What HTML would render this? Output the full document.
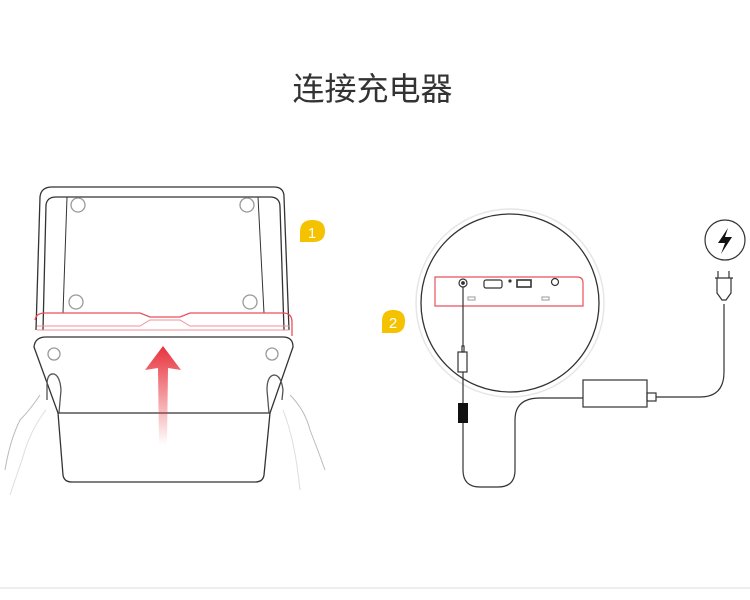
<!DOCTYPE html>
<html><head><meta charset="utf-8"><style>
body{margin:0;background:#fff;width:750px;height:600px;overflow:hidden;position:relative}
.t{position:absolute;top:64px;left:0;width:745px;text-align:center;font:32px "Liberation Sans","Noto Sans CJK SC",sans-serif;color:#333}
</style></head><body>
<div class="t">连接充电器</div>
<svg width="750" height="600" style="position:absolute;left:0;top:0">
<defs><linearGradient id="ag" x1="0" y1="0" x2="0" y2="1"><stop offset="0" stop-color="#e8323c"/><stop offset="1" stop-color="#e8323c" stop-opacity="0"/></linearGradient></defs>
<g fill="none" stroke="#333" stroke-width="1.3">
<path d="M36,330 L40,197 Q41,187 52,187 L274,187 Q284,187 284,197 L289,330"/>
<path d="M43,330 L46,205 Q47,197 56,197 L270,197 Q280,197 280,207 L284,330"/>
<line x1="67" y1="197" x2="63" y2="313" stroke-width="1"/>
<line x1="258" y1="197" x2="264" y2="313" stroke-width="1"/>
<circle cx="78" cy="205" r="7" stroke="#999"/><circle cx="247" cy="205" r="7" stroke="#999"/>
<circle cx="76" cy="302" r="7" stroke="#999"/><circle cx="250" cy="302" r="7" stroke="#999"/>
<path d="M35,320 Q36,313 45,313 L140,313 L150,317 L180,317 L190,313 L283,313 Q292,313 292,322 L292,336" stroke="#e8505a"/>
<path d="M37,326 L140,326 L150,320 L180,320 L190,326 L289,326" stroke="#f09098" stroke-width="1"/>
<path d="M37,330 L289,330" stroke="#f09098" stroke-width="1"/>
<path d="M46,337 L283,337 Q293,337 293,347 L270,413 L264,475 Q263,482 255,482 L72,482 Q64,482 63,475 L58,413 L34,347 Q35,337 46,337 Z"/>
<line x1="58" y1="413" x2="270" y2="413"/>
<circle cx="54" cy="354" r="6" stroke="#999"/><circle cx="272" cy="354" r="6" stroke="#999"/>
<path d="M47,400 L47,385 Q47,373 54,374 Q60,376 61,390 L59,413" stroke="#555"/>
<path d="M269,413 L267,390 Q267,376 274,375 Q281,375 283,390 L282,400" stroke="#555"/>
<path d="M40,395 Q30,410 20,420 Q10,440 5,470" stroke="#bbb" stroke-width="1"/>
<path d="M46,410 Q30,430 22,460 Q15,480 10,495" stroke="#ddd" stroke-width="1"/>
<path d="M290,395 Q305,410 310,430 Q318,450 325,470" stroke="#bbb" stroke-width="1"/>
<path d="M283,410 Q295,440 300,490" stroke="#ddd" stroke-width="1"/>
</g>
<path d="M163,346 L181,370 L168,368 L167,445 L159,445 L158,368 L145,370 Z" fill="url(#ag)"/>
<path d="M300,232 Q300,220 312,220 Q325,220 325,231 Q325,242 313,242 L300,242 Z" fill="#f5c200"/>
<text x="312" y="238" font-family="Liberation Sans,sans-serif" font-size="15" fill="#fff" text-anchor="middle">1</text>
<path d="M382,321 Q382,310 393,310 Q405,310 405,321 Q405,333 394,333 L382,333 Z" fill="#f5c200"/>
<text x="393" y="328" font-family="Liberation Sans,sans-serif" font-size="15" fill="#fff" text-anchor="middle">2</text>
<circle cx="510" cy="303" r="94" fill="none" stroke="#e6e6e6" stroke-width="1.5"/>
<circle cx="510" cy="303" r="89" fill="none" stroke="#333" stroke-width="1.3"/>
<g fill="none" stroke="#333" stroke-width="1.2">
<path d="M435,277 L577,277 Q583,277 583,283 L583,306 L435,306 Z" stroke="#e8505a"/>
<circle cx="463" cy="283" r="4"/><circle cx="463" cy="283" r="1.3" fill="#333"/>
<rect x="484" y="280" width="18" height="8" rx="2"/><rect x="517" y="280" width="14" height="7" stroke-width="1.6"/>
<circle cx="510" cy="281" r="1" fill="#333"/>
<circle cx="555" cy="282" r="3.5"/>
<rect x="468" y="297" width="7" height="3" stroke="#aaa"/><rect x="542" y="297" width="7" height="3" stroke="#aaa"/>
<path d="M463,287 L463,346"/><rect x="462" y="346" width="2" height="6"/>
<rect x="458" y="352" width="9" height="20"/>
<path d="M463,372 L463,403 M463,423 L463,470 Q463,487 480,487 L498,487 Q515,487 515,470 L515,420 Q515,398 540,398 L583,398"/>
<rect x="583" y="380" width="64" height="27"/>
<rect x="647" y="393" width="9" height="8"/>
<path d="M656,397 L700,397 Q724,397 724,372 L724,304"/>
<path d="M715,278 L733,278 M718,271 L718,278 M729,271 L729,278 M717,278 L717,293 L722,300 L726,300 L731,293 L731,278"/>
<circle cx="725" cy="240" r="20"/>
</g>
<rect x="458" y="403" width="10" height="20" fill="#111"/>
<path d="M728,228 L718,243 L725,243 L721,254 L732,237 L725,237 Z" fill="#111"/>
<line x1="0" y1="588" x2="750" y2="588" stroke="#ddd"/>
</svg>
</body></html>
